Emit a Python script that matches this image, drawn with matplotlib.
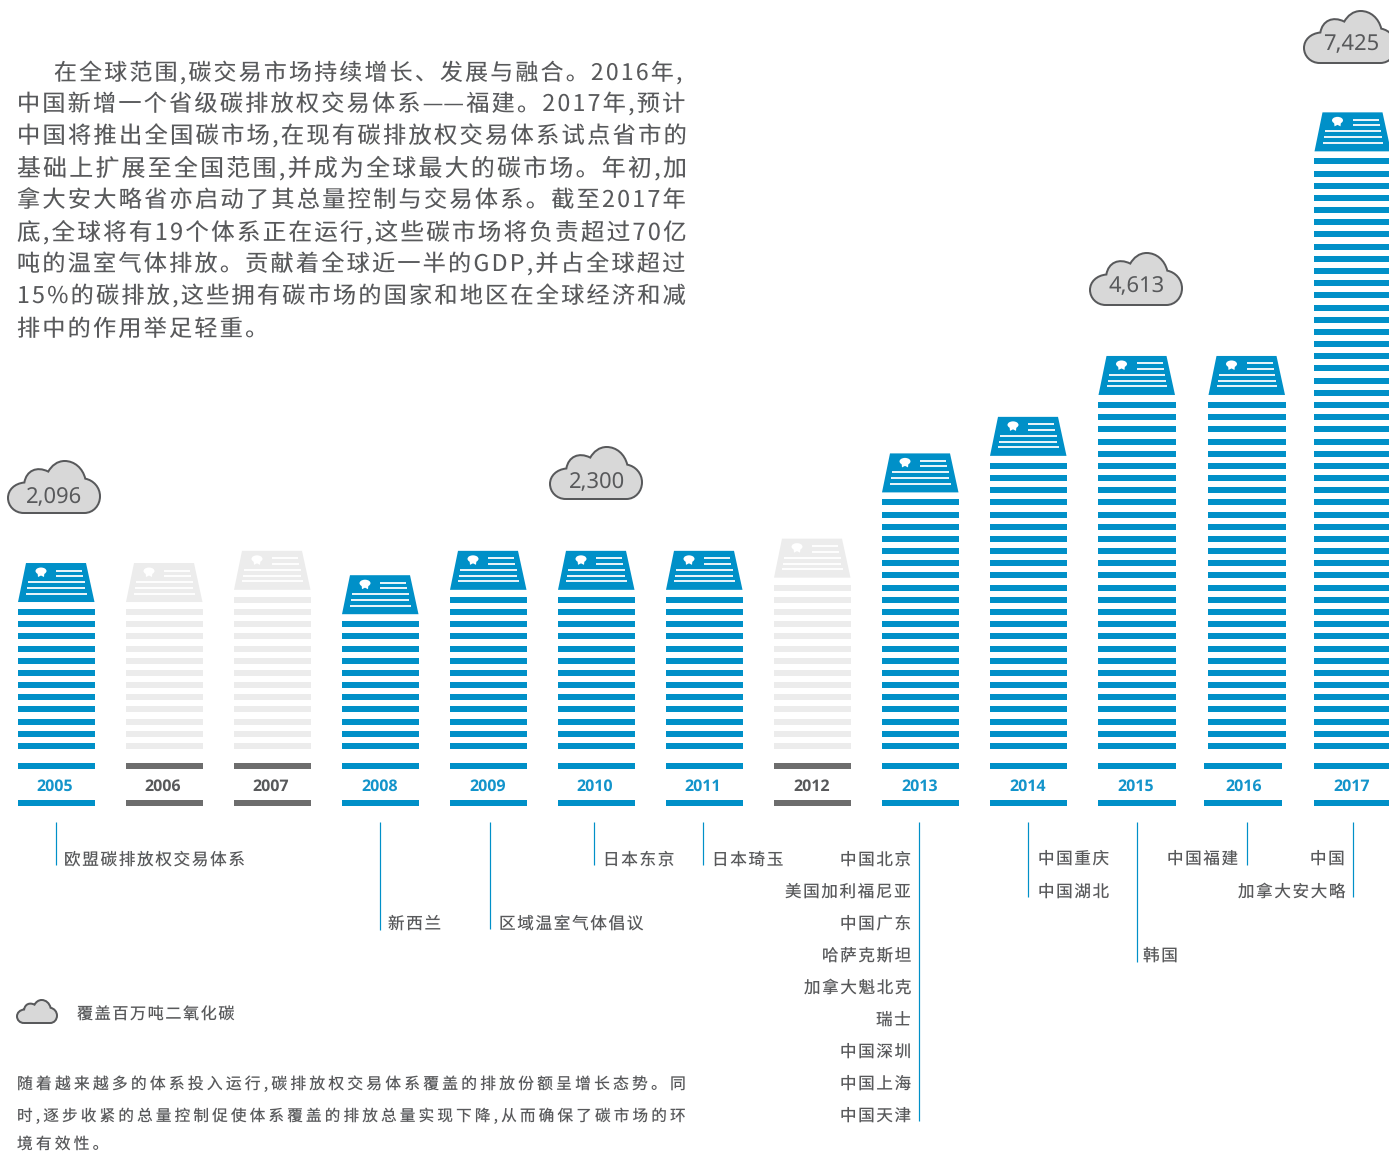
import matplotlib
matplotlib.use('Agg')
import numpy as np
import matplotlib.pyplot as plt
from matplotlib.path import Path
from matplotlib.patches import PathPatch, Polygon, Ellipse

FAM = ['Noto Sans CJK SC', 'DejaVu Sans']
plt.rcParams['font.family'] = FAM
plt.rcParams['text.hinting'] = 'no_hinting'
plt.rcParams['text.hinting_factor'] = 1

W, H = 1389, 1153
BLUE = '#0090C8'; LGRAY = '#ECECEC'; DGRAY = '#6D6D6D'; TXT = '#58595B'

# ---------- data ----------
years = [2005, 2006, 2007, 2008, 2009, 2010, 2011, 2012, 2013, 2014, 2015, 2016, 2017]
stripe_counts = [12, 12, 13, 11, 13, 13, 13, 14, 21, 24, 29, 29, 49]
active = [1, 0, 0, 1, 1, 1, 1, 0, 1, 1, 1, 1, 1]
col_left = [17.5, 125.5, 233.5, 341.5, 449.5, 557.5, 665.5, 773.5, 881.5, 989.5, 1098, 1208, 1314]
base_left = [17.5, 125.5, 233.5, 341.5, 449.5, 557.5, 665.5, 773.5, 881.5, 989.5, 1098, 1204, 1314]
year_x = [55, 163, 271, 380, 488, 594.5, 703, 812, 920, 1028, 1136, 1244, 1352]
cloud_values = ['2,096', '2,300', '4,613', '7,425']
cloud_left = [8, 550, 1090, 1304]
cloud_top = [461, 447, 253, 11]
value_x = [54, 597, 1137, 1351]
value_y = [497.5, 482.5, 286.5, 44.5]

body = ["在全球范围,碳交易市场持续增长、发展与融合。2016年,",
        "中国新增一个省级碳排放权交易体系——福建。2017年,预计",
        "中国将推出全国碳市场,在现有碳排放权交易体系试点省市的",
        "基础上扩展至全国范围,并成为全球最大的碳市场。年初,加",
        "拿大安大略省亦启动了其总量控制与交易体系。截至2017年",
        "底,全球将有19个体系正在运行,这些碳市场将负责超过70亿",
        "吨的温室气体排放。贡献着全球近一半的GDP,并占全球超过",
        "15%的碳排放,这些拥有碳市场的国家和地区在全球经济和减",
        "排中的作用举足轻重。"]
body_x = [(54, 681), (17, 685), (17, 685), (17, 685), (17, 685),
          (17, 685), (17, 685), (17, 685), (17, 253)]
note = ["随着越来越多的体系投入运行,碳排放权交易体系覆盖的排放份额呈增长态势。同",
        "时,逐步收紧的总量控制促使体系覆盖的排放总量实现下降,从而确保了碳市场的环",
        "境有效性。"]
note_x = [(17, 685), (17, 685), (17, 98)]
note_y = [1084, 1116, 1144]
leaders_x = [56.5, 380.5, 490, 594, 703, 919, 1028, 1137, 1247, 1353]
leaders_end = [865, 930, 929, 865, 865, 1121, 897, 962, 865, 897]
left_labels = [(64, 858, '欧盟碳排放权交易体系'), (388, 922, '新西兰'), (499, 922, '区域温室气体倡议'),
               (603, 858, '日本东京'), (712, 858, '日本琦玉'), (1143, 954, '韩国')]
right_labels = [(911, 858, '中国北京'), (911, 890, '美国加利福尼亚'), (911, 922, '中国广东'),
                (911, 954, '哈萨克斯坦'), (911, 986, '加拿大魁北克'), (911, 1018, '瑞士'),
                (911, 1050, '中国深圳'), (911, 1082, '中国上海'), (911, 1114, '中国天津'),
                (1109, 857, '中国重庆'), (1109, 890, '中国湖北'), (1238, 857, '中国福建'),
                (1345, 857, '中国'), (1345, 890, '加拿大安大略')]
legend_text = '覆盖百万吨二氧化碳'

# ---------- canvas ----------
fig = plt.figure(figsize=(W / 100, H / 100), dpi=100)
ax = fig.add_axes([0, 0, 1, 1])
ax.set_xlim(0, W); ax.set_ylim(H, 0); ax.axis('off')

def pt(px):
    return px / 1.389

def track(s, n):
    out = ''
    for i, c in enumerate(s):
        out += c
        if i < len(s) - 1 and not (c == '—' and s[i + 1] == '—'):
            out += '\u200a' * n
    return out

fit_items = []

def fitted(s, x0, x1, y, size_px, n, color=TXT):
    t = ax.text(x0, y, track(s, n), fontsize=pt(size_px), color=color, ha='left',
                va='center', family=FAM, weight='light')
    fit_items.append((t, x0, x1, y))
    return t

def fit_all():
    # measured on the rendered pixels: the extent ignores part of the fallback spacing
    for _ in range(4):
        fig.canvas.draw()
        img = np.asarray(fig.canvas.buffer_rgba())[:, :, 0]
        for t, x0, x1, y in fit_items:
            r0 = max(int(y) - 9, 0); r1 = min(int(y) + 9, H)
            cols = np.where((img[r0:r1, :720] < 200).any(axis=0))[0]
            cols = cols[cols >= x0 - 3]
            if len(cols):
                t.set_fontsize(t.get_fontsize() * (x1 - x0) / (cols[-1] + 1 - x0))

# ---------- cloud ----------
CX = [(70, 192), (255, 192), (283, 192), (303, 168), (303, 140), (303, 112), (283, 90), (258, 85),
      (250, 52), (225, 30), (195, 30), (172, 30), (155, 45), (145, 63), (110, 45), (78, 60), (72, 97),
      (42, 100), (22, 120), (22, 145), (22, 170), (42, 192), (70, 192)]
CC = [Path.MOVETO, Path.LINETO] + [Path.CURVE4] * 21

def cloud(x, y, w, h, lw=2.0):
    v = [(x + (a - 22) / 281 * w, y + (b - 30) / 162 * h) for a, b in CX]
    ax.add_patch(PathPatch(Path(v, CC), fc='#D8D8D8', ec='#58595B', lw=pt(lw), zorder=3))

# ---------- columns ----------
BW = 77.5
BOTTOM_STRIPE, STEP, SH = 743, 12.18, 6
for i, (yr, n, on) in enumerate(zip(years, stripe_counts, active)):
    x = col_left[i]
    col = BLUE if on else LGRAY
    base = BLUE if on else DGRAY
    tops = [BOTTOM_STRIPE - k * STEP for k in range(n)]
    ax.bar([x] * n, [SH] * n, width=BW, bottom=tops, align='edge', color=col, lw=0)
    ax.bar([base_left[i]] * 2, [6, 6], width=BW, bottom=[763, 800], align='edge', color=base, lw=0)
    ax.text(year_x[i], 786.5, str(yr), fontsize=pt(15.5), color='#1394CB' if on else '#58595B',
            ha='center', va='center', weight='bold', family=['Open Sans', 'DejaVu Sans'])
    # sheet
    b = tops[-1] - 7
    t = b - 39
    ax.add_patch(Polygon([(x + 8.5, t), (x + 68.5, t), (x + 77, b), (x + 0.5, b)], fc=col, lw=0))
    ax.add_patch(Ellipse((x + 23.5, t + 8), 11, 7, fc='white', lw=0))
    ax.add_patch(Polygon([(x + 20, t + 9), (x + 27, t + 9), (x + 26.5, t + 14), (x + 23.5, t + 12.5), (x + 20.5, t + 14)],
                         fc='white', lw=0))
    for xa, xb, dy in [(38.5, 64.5, 7.5), (38.5, 65.5, 13), (10.5, 67, 19), (9.5, 67.5, 25), (8.5, 69, 30.5)]:
        ax.plot([x + xa, x + xb], [t + dy, t + dy], color='white', lw=pt(1.8), solid_capstyle='butt')

# ---------- clouds with values ----------
for v, l, t, vx, vy in zip(cloud_values, cloud_left, cloud_top, value_x, value_y):
    cloud(l, t, 92, 52)
    ax.text(vx, vy, v, fontsize=pt(22), color=TXT, ha='center', va='center',
            family=['Noto Sans', 'DejaVu Sans'], zorder=4)

# ---------- leader lines ----------
for lx, le in zip(leaders_x, leaders_end):
    ax.plot([lx - 0.5, lx - 0.5], [822, le], color=BLUE, lw=pt(1.2), solid_capstyle='butt')

for x, y, s in left_labels:
    ax.text(x, y + 1.5, track(s, 1), fontsize=pt(16.6), color=TXT, ha='left', va='center', family=FAM, weight='light')
for x, y, s in right_labels:
    ax.text(x, y + 1.5, track(s, 1), fontsize=pt(16.5), color=TXT, ha='right', va='center', family=FAM, weight='light')

# ---------- texts ----------
for k, (s, (a, b)) in enumerate(zip(body, body_x)):
    fitted(s, a, b, 73 + 32 * k, 21.7, 1)
for k, (s, (a, b), y) in enumerate(zip(note, note_x, note_y)):
    fitted(s, a, b, y, 16.3, 2)
cloud(17, 1000, 40, 23)
fitted(legend_text, 77, 234, 1015, 16.3, 1)
fit_all()

fig.savefig('out.png', dpi=100)
